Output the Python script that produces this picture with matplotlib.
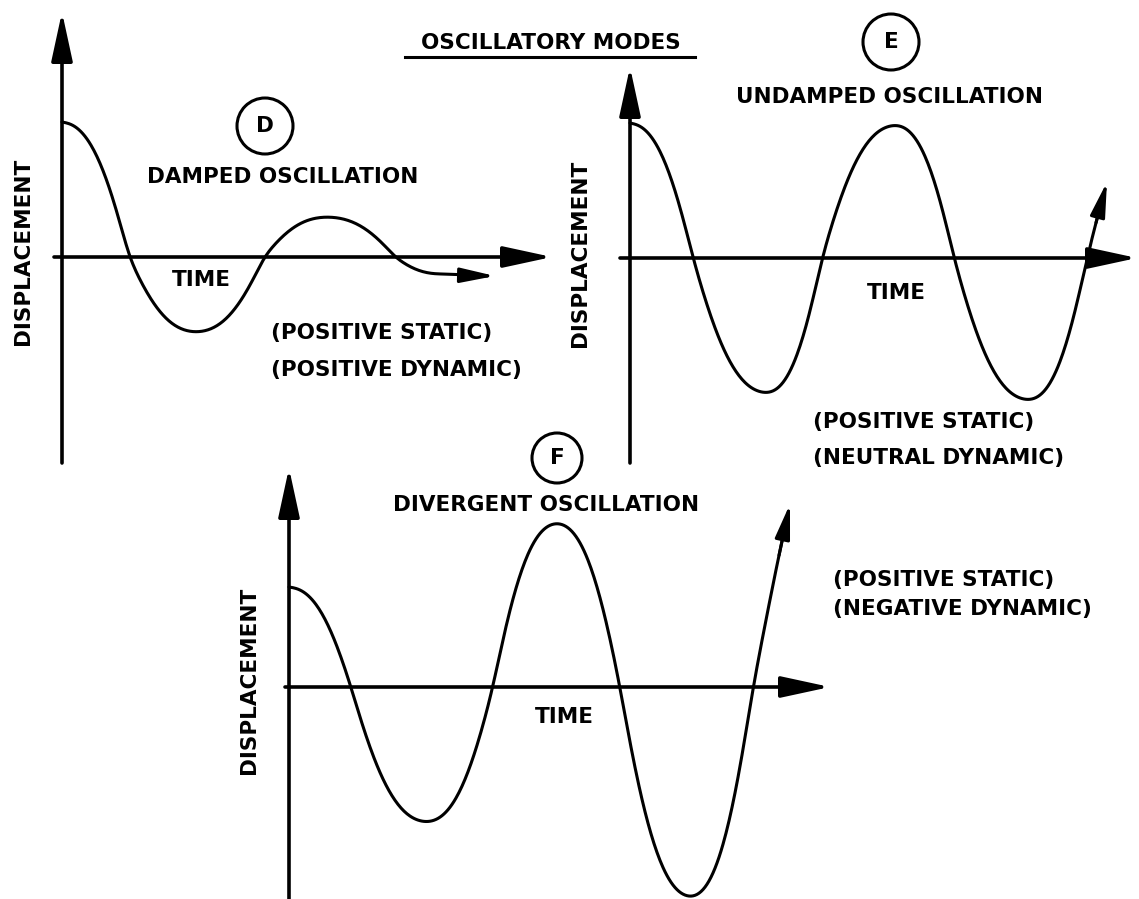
import numpy as np
import matplotlib
matplotlib.use("Agg")
import matplotlib.pyplot as plt
from matplotlib.patches import Ellipse
from matplotlib.lines import Line2D

# ---------------- data ----------------
# time (arbitrary units) and displacement (arbitrary units) of key points
# (extrema, zero crossings, end of curve) for each oscillatory mode
time_D = [0, 67, 134, 202, 265, 333, 378, 433]
disp_D = [135, 0, -75, 0, 40, 0, -17, -19]

time_E = [0, 63, 137, 192, 266, 324, 399, 457, 477]
disp_E = [135, 0, -135, 0, 133, 0, -142, 0, 76]

time_F = [0, 62, 138, 204, 268, 331, 402, 464, 501]
disp_F = [100, 0, -135, 0, 164, 0, -210, 0, 183]

title = "OSCILLATORY MODES"
mode_letters = ["D", "E", "F"]
mode_names = ["DAMPED OSCILLATION", "UNDAMPED OSCILLATION", "DIVERGENT OSCILLATION"]
stability = [("(POSITIVE STATIC)", "(POSITIVE DYNAMIC)"),
             ("(POSITIVE STATIC)", "(NEUTRAL DYNAMIC)"),
             ("(POSITIVE STATIC)", "(NEGATIVE DYNAMIC)")]
x_label = "TIME"
y_label = "DISPLACEMENT"

# ---------------- layout (pixels) ----------------
W, H = 1139, 899
layout = {
    "D": dict(x0=62, y0=257, yax=(-206, 245), xax=(-8, 490),
              circ=(265, 126, 28), name=(283, 177), time=(201, 280),
              stab=(271, 333, 370), ylab=(23, 251)),
    "E": dict(x0=630, y0=258, yax=(-205, 191), xax=(-10, 507),
              circ=(891, 42, 28), name=(890, 97), time=(896, 293),
              stab=(813, 422, 458), ylab=(580, 253)),
    "F": dict(x0=289, y0=687, yax=(-212, 219), xax=(-4, 541),
              circ=(557, 458, 25), name=(546, 505), time=(564, 717),
              stab=(833, 580, 609), ylab=(249, 680)),
}
series = {"D": (time_D, disp_D), "E": (time_E, disp_E), "F": (time_F, disp_F)}

FONT = "DejaVu Sans"
FS = 15.5
WEIGHT = "bold"
LW_CURVE = 2.2
LW_AXIS = 2.6
WARP = 0.25   # hand-drawn look: steeper zero crossings, broader peaks
SMOOTH = 5.0  # rounding of joins between segments


def wave(t, y, n=80):
    """Smooth hand-drawn style curve through key points using
    quarter-wave segments (extremum <-> zero crossing)."""
    xs, ys = [], []
    last = len(t) - 2
    for k in range(len(t) - 1):
        a, b = t[k], t[k + 1]
        ya, yb = y[k], y[k + 1]
        s = np.linspace(0, 1, n, endpoint=(k == last))
        if yb == 0:                      # extremum -> zero
            r = 1 - s
            g = r + WARP * r * (1 - r)
            seg = ya * np.sin(0.5 * np.pi * g)
        elif ya == 0 and k == last:      # zero -> free end (arrow)
            phi = 0.55
            seg = yb * np.sin(phi * s) / np.sin(phi)
        elif ya == 0:                    # zero -> extremum
            g = s + WARP * s * (1 - s)
            seg = yb * np.sin(0.5 * np.pi * g)
        else:                            # between two non-zero points
            seg = ya + (yb - ya) * (1 - np.cos(np.pi * s)) / 2
        xs.append(a + (b - a) * s)
        ys.append(seg)
    x = np.concatenate(xs)
    yv = np.concatenate(ys)
    # uniform resampling and light gaussian rounding (odd reflection at ends)
    xu = np.arange(t[0], t[-1] + 0.5, 1.0)
    xu[-1] = t[-1]
    yu = np.interp(xu, x, yv)
    m = int(4 * SMOOTH)
    ker = np.exp(-0.5 * (np.arange(-m, m + 1) / SMOOTH) ** 2)
    ker /= ker.sum()
    left = 2 * yu[0] - yu[1:m + 1][::-1]
    right = 2 * yu[-1] - yu[-m - 1:-1][::-1]
    ys_s = np.convolve(np.concatenate([left, yu, right]), ker, mode="valid")
    return xu, ys_s


fig = plt.figure(figsize=(W / 100, H / 100), dpi=100)
fig.patch.set_facecolor("white")


def fx(px):
    return px / W


def fy(py):
    return 1 - py / H


axis_arrow = dict(arrowstyle="-|>,head_length=30,head_width=6.5",
                  mutation_scale=1, lw=LW_AXIS, color="black",
                  shrinkA=0, shrinkB=0)
curve_arrow = dict(arrowstyle="-|>,head_length=21,head_width=4.5",
                   mutation_scale=1, lw=LW_CURVE, color="black",
                   shrinkA=0, shrinkB=0)

txt = dict(fontsize=FS, family=FONT, fontweight=WEIGHT, color="black")

for i, key in enumerate(["D", "E", "F"]):
    L = layout[key]
    ax = fig.add_axes([0, 0, 1, 1])
    ax.set_xlim(-L["x0"], W - L["x0"])
    ax.set_ylim(L["y0"] - H, L["y0"])
    ax.axis("off")
    ax.patch.set_alpha(0)

    # axes with arrow heads
    ax.annotate("", xy=(0, L["yax"][1]), xytext=(0, L["yax"][0]),
                arrowprops=axis_arrow)
    ax.annotate("", xy=(L["xax"][1], 0), xytext=(L["xax"][0], 0),
                arrowprops=axis_arrow)

    # curve
    t, dsp = series[key]
    ts, ys = wave(t, dsp)
    ax.plot(ts[:-8], ys[:-8], color="black", lw=LW_CURVE,
            solid_capstyle="round", solid_joinstyle="round")
    ax.annotate("", xy=(ts[-1], ys[-1]), xytext=(ts[-12], ys[-12]),
                arrowprops=curve_arrow)

    # circle with letter
    cx, cy, r = L["circ"]
    fig.add_artist(Ellipse((fx(cx), fy(cy)), 2 * r / W, 2 * r / H,
                           transform=fig.transFigure, fill=False,
                           lw=2.2, color="black"))
    fig.text(fx(cx), fy(cy), mode_letters[i], ha="center", va="center", **txt)

    # texts
    nx, ny = L["name"]
    fig.text(fx(nx), fy(ny), mode_names[i], ha="center", va="center", **txt)
    tx, ty = L["time"]
    fig.text(fx(tx), fy(ty), x_label, ha="center", va="center", **txt)
    sx, sy1, sy2 = L["stab"]
    fig.text(fx(sx), fy(sy1), stability[i][0], ha="left", va="center", **txt)
    fig.text(fx(sx), fy(sy2), stability[i][1], ha="left", va="center", **txt)
    lx, ly = L["ylab"]
    fig.text(fx(lx), fy(ly), y_label, ha="center", va="center",
             rotation=90, **txt)

# title with underline
fig.text(fx(551), fy(43), title, ha="center", va="center", **txt)
fig.add_artist(Line2D([fx(405), fx(695)], [fy(57), fy(57)],
                      transform=fig.transFigure, lw=2.2, color="black"))

fig.savefig("out.png", dpi=100, facecolor="white")
